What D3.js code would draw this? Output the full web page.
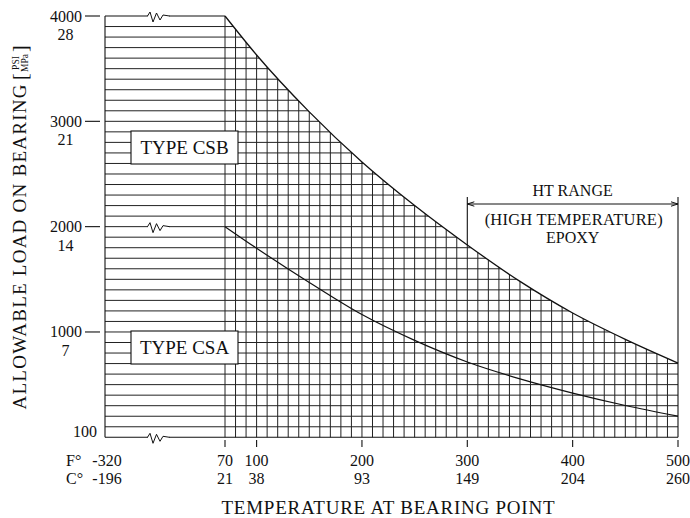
<!DOCTYPE html>
<html>
<head>
<meta charset="utf-8">
<script src="https://cdn.jsdelivr.net/npm/d3@7"></script>
<style>
  body { margin: 0; background: #fff; }
  svg text { font-family: "Liberation Serif", "Times New Roman", serif; fill: #111; }
</style>
</head>
<body>
<div id="plotDiv"></div>
<script>
// temperatures (F) where the curves were read
var tempF = [70, 100, 150, 200, 250, 300, 350, 400, 450, 500];
// allowable load, psi
var csbLoad = [4000, 3630, 3090, 2614, 2200, 1826, 1480, 1180, 930, 705];
var csaLoad = [2000, 1795, 1470, 1165, 920, 715, 555, 420, 302, 200];

// axis ticks
var fTicks = [70, 100, 200, 300, 400, 500];
var cTicks = [21, 38, 93, 149, 204, 260];
var fLow = -320, cLow = -196;
var psiTicks = [4000, 3000, 2000, 1000];
var mpaTicks = [28, 21, 14, 7];
var bottomPsiLabel = "100";
var breakLoads = [4000, 2000, 0];
var htRange = [300, 500];

var width = 690, height = 518;

var svg = d3.select('#plotDiv')
    .append('svg')
    .attr('width', width)
    .attr('height', height);

var x = d3.scaleLinear().domain([70, 500]).range([225, 678]);
var xLow = d3.scaleLinear().domain([-320, 70]).range([105, 225]);
var y = d3.scaleLinear().domain([0, 4000]).range([437.3, 16]);

var csbPts = tempF.map(function(t, i) { return [t, csbLoad[i]]; });
var csaPts = tempF.map(function(t, i) { return [t, csaLoad[i]]; });

var curveLine = d3.line()
    .x(function(d) { return x(d[0]); })
    .y(function(d) { return y(d[1]); })
    .curve(d3.curveMonotoneX);

var underArea = d3.area()
    .x(function(d) { return x(d[0]); })
    .y0(y(0) + 1)
    .y1(function(d) { return y(d[1]); })
    .curve(d3.curveMonotoneX);

// clip region = left block + area under CSB curve
var clip = svg.append('defs').append('clipPath').attr('id', 'gridClip');
clip.append('rect')
    .attr('x', xLow(-320) - 1)
    .attr('y', y(4000) - 1)
    .attr('width', x(70) - xLow(-320) + 1)
    .attr('height', y(0) - y(4000) + 2);
clip.append('path').attr('d', underArea(csbPts));

var grid = svg.append('g')
    .attr('clip-path', 'url(#gridClip)')
    .attr('stroke', '#222')
    .attr('stroke-width', 1);

grid.selectAll('line.h')
    .data(d3.range(100, 4000, 100))
    .enter().append('line')
    .attr('class', 'h')
    .attr('x1', xLow(-320)).attr('x2', x(500))
    .attr('y1', function(d) { return y(d); })
    .attr('y2', function(d) { return y(d); });

grid.selectAll('line.v')
    .data(d3.range(70, 500, 10))
    .enter().append('line')
    .attr('class', 'v')
    .attr('x1', function(d) { return x(d); })
    .attr('x2', function(d) { return x(d); })
    .attr('y1', y(0)).attr('y2', y(4000));

var frame = svg.append('g').attr('stroke', '#111').attr('stroke-width', 1.1).attr('fill', 'none');
// top edge of left block, bottom edge, left edge
frame.append('line').attr('x1', xLow(-320)).attr('x2', x(70)).attr('y1', y(4000)).attr('y2', y(4000));
frame.append('line').attr('x1', xLow(-320)).attr('x2', x(500)).attr('y1', y(0)).attr('y2', y(0));
frame.append('line').attr('x1', xLow(-320)).attr('x2', xLow(-320)).attr('y1', y(0)).attr('y2', y(4000));
// right edge + HT range extension lines
frame.append('line').attr('x1', x(htRange[1])).attr('x2', x(htRange[1])).attr('y1', y(0)).attr('y2', 197);
frame.append('line').attr('x1', x(htRange[0])).attr('x2', x(htRange[0]))
    .attr('y1', y(csbLoad[tempF.indexOf(htRange[0])])).attr('y2', 197);

// curves
svg.append('path').attr('d', curveLine(csbPts))
    .attr('fill', 'none').attr('stroke', '#111').attr('stroke-width', 1.3);
svg.append('path').attr('d', curveLine(csaPts))
    .attr('fill', 'none').attr('stroke', '#111').attr('stroke-width', 1.2);

// axis breaks
var zig = [[0, 0], [2.5, -4], [5.5, 6], [9, -3], [12.5, 4], [15.5, -1], [22, 0]];
breakLoads.forEach(function(v) {
    var x0 = xLow(-320) + 42.5, y0 = y(v);
    svg.append('line')
        .attr('x1', x0 + 0.5).attr('x2', x0 + 21.5)
        .attr('y1', y0).attr('y2', y0)
        .attr('stroke', '#fff').attr('stroke-width', 3);
    svg.append('path')
        .attr('d', d3.line()(zig.map(function(p) { return [x0 + p[0], y0 + p[1]]; })))
        .attr('fill', 'none').attr('stroke', '#111').attr('stroke-width', 1);
});

// type boxes
var boxes = [{label: "TYPE CSB", top: 131}, {label: "TYPE CSA", top: 331}];
boxes.forEach(function(b) {
    svg.append('rect')
        .attr('x', 131).attr('y', b.top)
        .attr('width', 107).attr('height', 33)
        .attr('fill', '#fff').attr('stroke', '#111').attr('stroke-width', 1.1);
    svg.append('text')
        .attr('x', 184.5).attr('y', b.top + 23)
        .attr('text-anchor', 'middle')
        .attr('font-size', 19)
        .text(b.label);
});

// y axis ticks and labels
var yAxis = svg.append('g');
psiTicks.forEach(function(v, i) {
    yAxis.append('line').attr('x1', 85).attr('x2', 100)
        .attr('y1', y(v)).attr('y2', y(v))
        .attr('stroke', '#111').attr('stroke-width', 1.1);
    yAxis.append('text').attr('x', 82).attr('y', y(v) + 5.5)
        .attr('text-anchor', 'end').attr('font-size', 16).text(v);
    yAxis.append('text').attr('x', 65.5).attr('y', y(v) + 24)
        .attr('text-anchor', 'middle').attr('font-size', 16).text(mpaTicks[i]);
});
yAxis.append('text').attr('x', 97).attr('y', y(0))
    .attr('text-anchor', 'end').attr('font-size', 16).text(bottomPsiLabel);

// x axis ticks and labels
var xAxis = svg.append('g');
fTicks.forEach(function(t, i) {
    xAxis.append('line').attr('x1', x(t)).attr('x2', x(t))
        .attr('y1', 440).attr('y2', 447)
        .attr('stroke', '#111').attr('stroke-width', 1.1);
    xAxis.append('text').attr('x', x(t)).attr('y', 465.5)
        .attr('text-anchor', 'middle').attr('font-size', 16).text(t);
    xAxis.append('text').attr('x', x(t)).attr('y', 484)
        .attr('text-anchor', 'middle').attr('font-size', 16).text(cTicks[i]);
});
xAxis.append('text').attr('x', xLow(fLow) + 2).attr('y', 465.5)
    .attr('text-anchor', 'middle').attr('font-size', 16).text(fLow);
xAxis.append('text').attr('x', xLow(fLow) + 2).attr('y', 484)
    .attr('text-anchor', 'middle').attr('font-size', 16).text(cLow);
xAxis.append('text').attr('x', 66).attr('y', 465.5).attr('font-size', 16).text('F\u00b0');
xAxis.append('text').attr('x', 66).attr('y', 484).attr('font-size', 16).text('C\u00b0');

// axis titles
svg.append('text')
    .attr('x', 388).attr('y', 514)
    .attr('text-anchor', 'middle').attr('font-size', 19)
    .attr('textLength', 333).attr('lengthAdjust', 'spacing')
    .text('TEMPERATURE AT BEARING POINT');

var yTitle = svg.append('g').attr('transform', 'translate(26,247) rotate(-90)');
yTitle.append('text')
    .attr('x', 0).attr('y', 0)
    .attr('text-anchor', 'middle').attr('font-size', 19)
    .attr('textLength', 325).attr('lengthAdjust', 'spacing')
    .text('ALLOWABLE LOAD ON BEARING');
yTitle.append('text').attr('x', 167).attr('y', 1).attr('font-size', 20).text('[');
yTitle.append('text').attr('x', 184).attr('y', -7).attr('text-anchor', 'middle')
    .attr('font-size', 9.5).text('PSI');
yTitle.append('text').attr('x', 184).attr('y', 2).attr('text-anchor', 'middle')
    .attr('font-size', 9.5).text('MPa');
yTitle.append('text').attr('x', 195).attr('y', 1).attr('font-size', 20).text(']');

// HT range dimension
var dimY = 204;
var ht = svg.append('g').attr('stroke', '#111').attr('stroke-width', 1).attr('fill', 'none');
ht.append('line').attr('x1', x(htRange[0])).attr('x2', x(htRange[1])).attr('y1', dimY).attr('y2', dimY);
ht.append('path').attr('d', d3.line()([[x(htRange[0]) + 7, dimY - 2.2], [x(htRange[0]), dimY], [x(htRange[0]) + 7, dimY + 2.2]]));
ht.append('path').attr('d', d3.line()([[x(htRange[1]) - 7, dimY - 2.2], [x(htRange[1]), dimY], [x(htRange[1]) - 7, dimY + 2.2]]));

var htMid = (x(htRange[0]) + x(htRange[1])) / 2;
svg.append('text').attr('x', htMid).attr('y', 196)
    .attr('text-anchor', 'middle').attr('font-size', 16).text('HT RANGE');
svg.append('text').attr('x', htMid + 1).attr('y', 225)
    .attr('text-anchor', 'middle').attr('font-size', 16.5)
    .attr('textLength', 178).attr('lengthAdjust', 'spacing')
    .text('(HIGH TEMPERATURE)');
svg.append('text').attr('x', htMid).attr('y', 243)
    .attr('text-anchor', 'middle').attr('font-size', 16).text('EPOXY');
</script>
</body>
</html>
